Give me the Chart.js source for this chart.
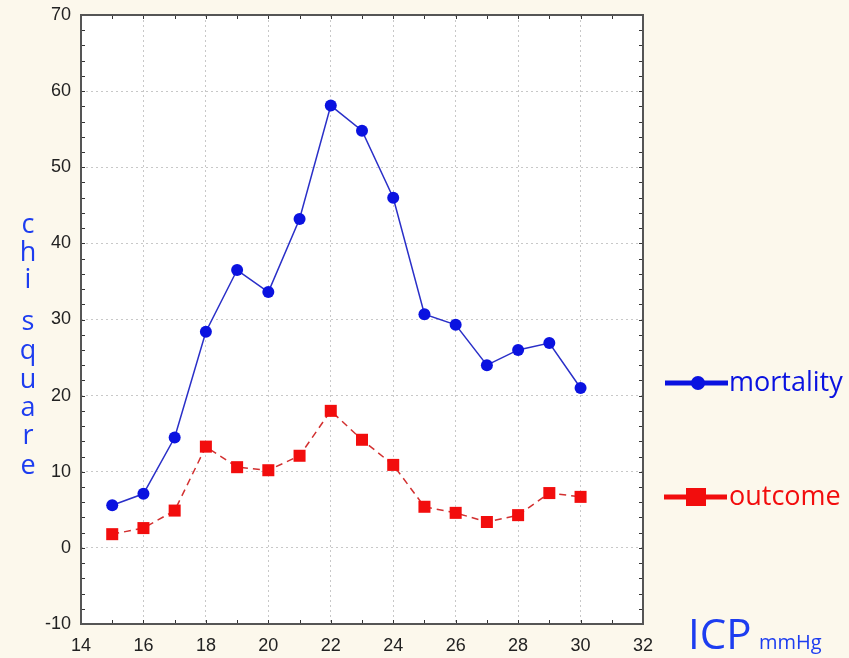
<!DOCTYPE html>
<html>
<head>
<meta charset="utf-8">
<script src="https://cdn.jsdelivr.net/npm/chart.js@4"></script>
<style>
  html, body { margin: 0; padding: 0; background: #fcf8ec; }
  #wrap { position: relative; width: 849px; height: 658px; }
  canvas { display: block; }
</style>
</head>
<body>
<div id="wrap"><canvas id="c" width="849" height="658"></canvas></div>
<script>
// ICP thresholds (mmHg)
const icp = [15, 16, 17, 18, 19, 20, 21, 22, 23, 24, 25, 26, 27, 28, 29, 30];
// chi-square values per threshold
const mortality = [5.6, 7.1, 14.5, 28.4, 36.5, 33.6, 43.2, 58.1, 54.8, 46.0, 30.7, 29.3, 24.0, 26.0, 26.9, 21.0];
const outcome   = [1.8, 2.6, 4.9, 13.3, 10.6, 10.2, 12.1, 18.0, 14.2, 10.9, 5.4, 4.6, 3.4, 4.3, 7.2, 6.7];
const seriesNames = ['mortality', 'outcome'];
const yTitle = ['c', 'h', 'i', 's', 'q', 'u', 'a', 'r', 'e'];

const BLUE = '#0a12e0';
const RED = '#f20d0d';

const toPoints = (vals) => icp.map((x, i) => ({ x, y: vals[i] }));

// White plotting area
const bgPlugin = {
  id: 'plotBg',
  beforeDraw(chart) {
    const { ctx, chartArea: a } = chart;
    ctx.save();
    ctx.fillStyle = '#ffffff';
    ctx.fillRect(a.left, a.top, a.right - a.left, a.bottom - a.top);
    ctx.restore();
  }
};

// Box frame with inward minor ticks on all four sides
const framePlugin = {
  id: 'frame',
  afterDatasetsDraw(chart) {
    const { ctx, chartArea: a, scales: { x, y } } = chart;
    ctx.save();
    ctx.strokeStyle = '#333';
    ctx.lineWidth = 1;
    const len = 4;
    ctx.beginPath();
    for (let v = 14; v <= 32; v += 1) {
      const px = Math.round(x.getPixelForValue(v)) + 0.5;
      ctx.moveTo(px, a.top); ctx.lineTo(px, a.top + len);
      ctx.moveTo(px, a.bottom); ctx.lineTo(px, a.bottom - len);
    }
    for (let v = -10; v <= 70; v += 2) {
      const py = Math.round(y.getPixelForValue(v)) + 0.5;
      ctx.moveTo(a.left, py); ctx.lineTo(a.left + len, py);
      ctx.moveTo(a.right, py); ctx.lineTo(a.right - len, py);
    }
    ctx.stroke();
    ctx.strokeStyle = '#555';
    ctx.lineWidth = 2;
    ctx.strokeRect(a.left, a.top, a.right - a.left, a.bottom - a.top);
    ctx.restore();
  }
};

// Axis titles and the legend at the right
const textPlugin = {
  id: 'texts',
  afterDraw(chart) {
    const { ctx } = chart;
    ctx.save();
    // vertical y title
    ctx.fillStyle = '#1d3df0';
    ctx.font = '27px "Open Sans", sans-serif';
    ctx.textAlign = 'center';
    ctx.textBaseline = 'middle';
    const ys = [225, 253, 280, 322, 351, 380, 408, 436, 466];
    yTitle.forEach((ch, i) => ctx.fillText(ch, 28, ys[i]));

    // x title
    ctx.textAlign = 'left';
    ctx.textBaseline = 'alphabetic';
    ctx.font = '42px "Open Sans", sans-serif';
    ctx.fillText('ICP', 688, 649);
    ctx.font = '20px "Open Sans", sans-serif';
    ctx.fillText('mmHg', 759, 649);

    // legend
    ctx.lineWidth = 5;
    ctx.strokeStyle = BLUE;
    ctx.beginPath(); ctx.moveTo(665, 383); ctx.lineTo(728, 383); ctx.stroke();
    ctx.fillStyle = BLUE;
    ctx.beginPath(); ctx.arc(698, 383, 7, 0, Math.PI * 2); ctx.fill();
    ctx.strokeStyle = RED; ctx.fillStyle = RED;
    ctx.beginPath(); ctx.moveTo(664, 497); ctx.lineTo(727, 497); ctx.stroke();
    ctx.fillRect(686, 488, 20, 18);

    ctx.font = '27px "Open Sans", sans-serif';
    ctx.textBaseline = 'middle';
    ctx.fillStyle = BLUE;
    ctx.fillText(seriesNames[0], 729, 383);
    ctx.fillStyle = RED;
    ctx.fillText(seriesNames[1], 729, 497);
    ctx.restore();
  }
};

new Chart(document.getElementById('c'), {
  type: 'line',
  data: {
    datasets: [
      {
        label: seriesNames[0],
        data: toPoints(mortality),
        borderColor: '#2a2fc8',
        backgroundColor: BLUE,
        borderWidth: 1.5,
        pointStyle: 'circle',
        pointRadius: 6,
        pointBorderWidth: 0,
        pointBackgroundColor: BLUE,
        tension: 0
      },
      {
        label: seriesNames[1],
        data: toPoints(outcome),
        borderColor: '#d23030',
        backgroundColor: RED,
        borderWidth: 1.5,
        borderDash: [7, 5],
        pointStyle: 'rect',
        pointRadius: 8.5,
        pointBorderWidth: 0,
        pointBackgroundColor: RED,
        tension: 0
      }
    ]
  },
  options: {
    responsive: false,
    animation: false,
    events: [],
    layout: { padding: { left: 0, right: 206, top: 15, bottom: 0 } },
    plugins: { legend: { display: false }, tooltip: { enabled: false } },
    scales: {
      x: {
        type: 'linear',
        min: 14, max: 32,
        ticks: { stepSize: 2, color: '#222', font: { family: 'Liberation Sans', size: 18 }, padding: 11, maxRotation: 0 },
        grid: { color: '#c8c8c8', lineWidth: 1, drawTicks: false },
        border: { display: false, dash: [2, 3] },
        afterFit(s) { s.height = 34; s.paddingLeft = 0; s.paddingRight = 0; }
      },
      y: {
        min: -10, max: 70,
        ticks: { stepSize: 10, color: '#222', font: { family: 'Liberation Sans', size: 18 }, padding: 10 },
        grid: { color: '#c8c8c8', lineWidth: 1, drawTicks: false },
        border: { display: false, dash: [2, 3] },
        afterFit(s) { s.width = 81; s.paddingTop = 0; s.paddingBottom = 0; }
      }
    }
  },
  plugins: [bgPlugin, framePlugin, textPlugin]
});
</script>
</body>
</html>
